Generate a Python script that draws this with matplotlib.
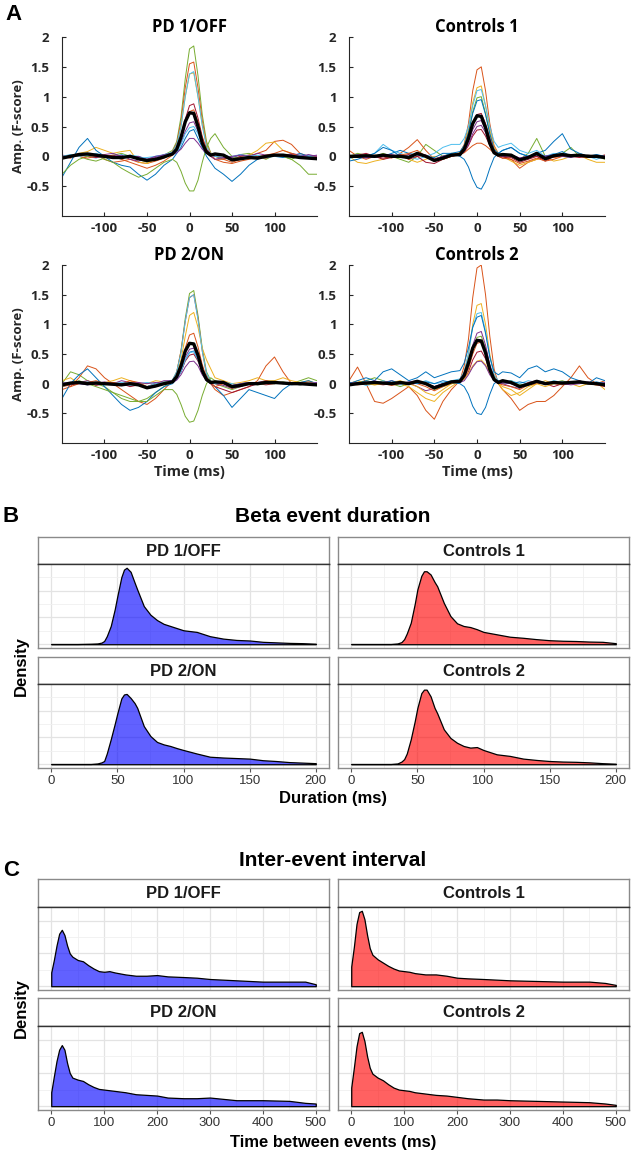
import matplotlib
matplotlib.use('Agg')
import matplotlib.pyplot as plt

# ---------------- data ----------------
# panel A: event-locked traces (F-score), sampled at t_ms
t_ms = [-150, -140, -130, -120, -110, -100, -90, -80, -70, -60, -50, -40, -30, -20, -15, -10, -5, 0,
        5, 10, 15, 20, 25, 30, 40, 50, 60, 70, 80, 90, 100, 110, 120, 130, 140, 150]

pd_colors = ['#77AC30', '#D95319', '#EDB120', '#4DBEEE', '#0072BD', '#A2142F', '#7E2F8E',
             '#77AC30', '#D95319', '#4DBEEE', '#7E2F8E']
ctrl1_colors = ['#77AC30', '#D95319', '#EDB120', '#0072BD', '#4DBEEE', '#A2142F', '#7E2F8E',
                '#A2142F', '#D95319', '#0072BD', '#7E2F8E']
ctrl2_colors = ['#77AC30', '#D95319', '#EDB120', '#4DBEEE', '#0072BD', '#A2142F', '#7E2F8E',
                '#D95319', '#EDB120', '#0072BD', '#7E2F8E']

pd1_off_traces = [
    [-0.05, 0.02, 0.0, -0.05, -0.08, -0.03, 0.02, 0.05, 0.0, -0.05, -0.1, -0.05, 0.02, 0.1, 0.25, 0.66, 1.3, 1.8, 1.85, 1.35, 0.7, 0.25, 0.06, 0.0, -0.05, -0.02, 0.03, 0.05, 0.0, -0.05, 0.02, 0.0, -0.05, 0.02, -0.02, 0.0],
    [0.0, -0.03, 0.02, 0.0, 0.03, -0.05, -0.1, -0.08, -0.05, -0.1, -0.12, -0.08, -0.03, 0.08, 0.22, 0.58, 1.15, 1.55, 1.58, 1.15, 0.6, 0.2, 0.05, -0.05, -0.05, -0.1, -0.05, 0.0, 0.05, 0.1, 0.25, 0.27, 0.2, 0.05, 0.0, -0.03],
    [0.0, 0.02, 0.05, 0.08, 0.15, 0.1, 0.05, 0.08, 0.1, -0.1, -0.12, -0.05, 0.0, 0.06, 0.18, 0.5, 1.0, 1.38, 1.4, 1.0, 0.52, 0.18, 0.05, 0.0, 0.02, -0.05, 0.0, 0.02, 0.1, 0.22, 0.24, 0.1, 0.05, 0.0, -0.02, 0.0],
    [0.0, -0.02, 0.03, 0.0, -0.03, 0.02, 0.0, -0.05, 0.02, 0.0, -0.05, 0.0, 0.03, 0.07, 0.2, 0.5, 1.0, 1.38, 1.42, 1.0, 0.52, 0.17, 0.04, 0.0, 0.03, -0.02, 0.02, 0.0, -0.03, 0.02, 0.0, 0.03, 0.0, -0.02, 0.02, 0.0],
    [-0.35, -0.1, 0.15, 0.3, 0.1, 0.0, -0.1, -0.15, -0.18, -0.3, -0.4, -0.3, -0.15, -0.05, 0.05, 0.15, 0.3, 0.42, 0.45, 0.3, 0.15, 0.0, -0.1, -0.2, -0.3, -0.42, -0.3, -0.15, -0.05, 0.0, 0.0, -0.02, 0.0, 0.05, 0.0, -0.02],
    [-0.02, 0.0, 0.03, 0.0, -0.02, 0.0, 0.02, -0.03, 0.0, -0.05, -0.08, -0.05, 0.0, 0.04, 0.12, 0.32, 0.62, 0.85, 0.88, 0.64, 0.33, 0.12, 0.04, 0.0, -0.03, -0.05, 0.0, 0.02, 0.0, -0.03, 0.02, 0.0, 0.03, 0.0, -0.02, 0.0],
    [0.02, 0.0, 0.05, 0.02, 0.0, 0.03, 0.05, 0.0, -0.02, 0.0, -0.05, -0.02, 0.03, 0.05, 0.1, 0.22, 0.42, 0.56, 0.58, 0.42, 0.22, 0.08, 0.03, 0.0, 0.02, -0.02, 0.03, 0.0, 0.05, 0.02, 0.03, 0.0, 0.05, 0.02, 0.0, 0.02],
    [-0.3, -0.15, -0.05, 0.0, 0.02, -0.05, -0.1, -0.2, -0.28, -0.35, -0.3, -0.2, -0.1, -0.05, -0.1, -0.25, -0.45, -0.58, -0.58, -0.4, -0.1, 0.15, 0.3, 0.38, 0.15, 0.0, -0.05, 0.0, -0.03, 0.0, 0.02, 0.0, -0.05, -0.15, -0.3, -0.3],
    [0.0, 0.02, 0.0, -0.03, 0.0, 0.02, 0.0, -0.05, -0.1, -0.15, -0.2, -0.15, -0.08, 0.02, 0.1, 0.28, 0.55, 0.75, 0.78, 0.58, 0.3, 0.1, 0.0, -0.05, -0.1, -0.12, -0.08, -0.05, 0.0, 0.02, 0.05, 0.1, 0.05, 0.0, -0.02, 0.0],
    [0.0, 0.03, 0.0, 0.02, 0.05, 0.0, -0.02, 0.03, 0.0, -0.03, -0.02, 0.0, 0.02, 0.04, 0.08, 0.2, 0.38, 0.48, 0.5, 0.38, 0.2, 0.07, 0.02, 0.0, -0.02, 0.0, 0.03, 0.0, 0.02, -0.02, 0.0, 0.03, 0.0, 0.02, 0.0, -0.02],
    [-0.02, 0.0, 0.02, 0.05, 0.0, -0.02, 0.0, 0.02, -0.05, -0.08, -0.05, 0.0, 0.02, 0.03, 0.06, 0.12, 0.22, 0.3, 0.3, 0.22, 0.12, 0.05, 0.0, -0.05, -0.02, 0.0, 0.02, 0.0, -0.02, 0.0, 0.03, 0.0, 0.02, 0.0, 0.03, 0.0],
]
pd1_off_mean = [-0.03, 0.0, 0.03, 0.04, 0.02, 0.0, -0.02, -0.02, 0.0, -0.04, -0.07, -0.05, -0.01, 0.04, 0.12, 0.32, 0.58, 0.73, 0.72, 0.5, 0.22, 0.07, 0.02, 0.04, 0.02, -0.06, -0.04, -0.02, -0.03, 0.0, 0.02, 0.02, 0.0, -0.02, -0.03, -0.04]

controls1_traces = [
    [0.0, 0.05, 0.02, 0.0, 0.05, 0.0, -0.05, -0.1, 0.0, 0.2, 0.1, 0.0, 0.05, 0.05, 0.15, 0.38, 0.75, 0.98, 1.0, 0.72, 0.38, 0.12, 0.03, 0.0, 0.02, -0.05, 0.05, 0.3, 0.0, 0.02, 0.05, 0.15, 0.0, 0.02, 0.0, -0.05],
    [0.1, 0.0, -0.05, 0.0, 0.02, -0.03, 0.05, 0.15, 0.28, 0.1, -0.05, 0.0, 0.03, 0.06, 0.2, 0.55, 1.1, 1.45, 1.5, 1.1, 0.55, 0.18, 0.05, 0.0, -0.05, -0.2, -0.1, -0.05, 0.0, -0.02, 0.0, 0.02, 0.0, -0.02, 0.0, 0.02],
    [0.0, -0.1, -0.12, -0.08, -0.05, 0.0, 0.02, -0.05, -0.1, -0.05, 0.0, -0.05, 0.0, 0.06, 0.18, 0.45, 0.9, 1.15, 1.18, 0.85, 0.45, 0.15, 0.05, 0.0, -0.08, -0.15, -0.1, -0.05, -0.02, -0.08, -0.05, 0.0, 0.02, -0.05, -0.1, -0.1],
    [0.0, 0.03, 0.0, -0.02, 0.0, 0.05, 0.1, 0.05, 0.02, 0.0, -0.05, 0.0, 0.05, 0.08, 0.18, 0.4, 0.72, 0.93, 0.95, 0.7, 0.38, 0.12, 0.05, 0.1, 0.15, 0.05, 0.0, 0.05, 0.1, 0.25, 0.38, 0.12, 0.05, 0.0, 0.02, 0.0],
    [-0.05, 0.02, 0.0, 0.05, 0.2, 0.1, 0.05, 0.0, -0.05, 0.0, 0.05, 0.15, 0.2, 0.2, 0.3, 0.5, 0.85, 1.1, 1.12, 0.85, 0.5, 0.25, 0.15, 0.18, 0.22, 0.1, 0.05, 0.1, 0.0, 0.05, 0.0, -0.02, 0.05, 0.0, -0.05, 0.0],
    [-0.02, 0.0, 0.02, 0.0, -0.03, 0.0, 0.02, -0.05, 0.0, 0.02, -0.05, -0.02, 0.0, 0.03, 0.07, 0.18, 0.34, 0.44, 0.45, 0.34, 0.18, 0.06, 0.0, -0.03, 0.0, -0.05, -0.02, 0.0, -0.08, 0.0, 0.02, 0.0, -0.02, 0.0, 0.02, 0.0],
    [0.0, 0.02, -0.02, 0.0, 0.02, 0.0, 0.03, 0.0, 0.05, 0.02, -0.05, 0.0, 0.02, 0.04, 0.1, 0.25, 0.45, 0.58, 0.6, 0.45, 0.25, 0.08, 0.02, 0.0, 0.03, -0.03, 0.0, 0.02, 0.0, 0.03, 0.0, 0.02, 0.0, 0.02, 0.0, 0.0],
    [0.0, 0.02, 0.05, 0.0, -0.05, -0.02, 0.0, 0.03, 0.0, -0.1, -0.12, -0.05, 0.0, 0.04, 0.1, 0.3, 0.55, 0.7, 0.72, 0.55, 0.3, 0.1, 0.02, 0.0, -0.02, -0.1, -0.05, 0.0, -0.05, 0.0, 0.02, 0.0, 0.03, -0.02, 0.0, 0.02],
    [0.0, -0.02, 0.0, 0.02, 0.0, -0.02, 0.02, 0.05, 0.1, 0.0, -0.08, -0.05, 0.0, 0.03, 0.06, 0.12, 0.18, 0.22, 0.22, 0.18, 0.12, 0.05, 0.0, -0.03, -0.05, -0.12, -0.08, -0.03, -0.08, -0.05, 0.0, 0.02, 0.0, -0.02, 0.0, 0.0],
    [-0.08, -0.05, 0.0, 0.05, 0.15, 0.1, 0.0, 0.0, 0.05, 0.0, -0.02, 0.05, 0.05, 0.0, -0.05, -0.18, -0.38, -0.52, -0.55, -0.42, -0.2, -0.02, 0.05, 0.1, 0.15, 0.05, 0.0, 0.02, 0.0, 0.03, 0.08, 0.0, 0.02, 0.0, 0.03, 0.0],
    [0.02, 0.0, -0.03, 0.0, 0.02, 0.03, 0.0, -0.02, 0.03, 0.0, -0.05, 0.0, 0.02, 0.03, 0.08, 0.2, 0.38, 0.5, 0.52, 0.4, 0.2, 0.07, 0.02, 0.0, 0.02, -0.03, 0.0, 0.03, 0.0, 0.02, 0.0, -0.02, 0.02, 0.0, -0.02, 0.0],
]
controls1_mean = [0.0, 0.0, 0.01, 0.0, 0.02, 0.0, 0.0, -0.02, 0.05, 0.0, -0.07, -0.03, 0.02, 0.03, 0.12, 0.3, 0.55, 0.68, 0.67, 0.48, 0.22, 0.06, 0.02, 0.03, 0.02, -0.06, -0.02, 0.05, -0.04, 0.01, 0.03, 0.01, 0.02, 0.0, 0.0, -0.02]

pd2_on_traces = [
    [0.0, 0.2, 0.15, 0.05, 0.0, -0.05, -0.15, -0.25, -0.3, -0.3, -0.25, -0.15, -0.05, 0.06, 0.2, 0.55, 1.1, 1.52, 1.57, 1.15, 0.6, 0.2, 0.05, 0.0, -0.05, -0.1, -0.05, 0.0, 0.02, 0.0, 0.0, 0.03, 0.0, 0.05, 0.1, 0.05],
    [-0.1, -0.05, 0.1, 0.3, 0.25, 0.1, 0.0, -0.1, -0.2, -0.3, -0.35, -0.25, -0.1, 0.05, 0.2, 0.55, 1.05, 1.45, 1.5, 1.1, 0.55, 0.15, 0.0, -0.1, -0.2, -0.15, -0.1, -0.05, 0.05, 0.3, 0.45, 0.2, 0.0, 0.02, 0.0, 0.0],
    [0.05, 0.1, 0.0, 0.05, 0.0, 0.02, 0.05, 0.1, 0.05, 0.0, 0.0, 0.05, 0.03, 0.05, 0.15, 0.4, 0.8, 1.15, 1.2, 0.95, 0.6, 0.4, 0.25, 0.1, 0.05, 0.0, 0.02, 0.05, 0.1, 0.05, 0.05, 0.1, 0.05, 0.02, 0.05, 0.0],
    [0.0, 0.02, 0.0, -0.02, 0.03, 0.0, 0.02, 0.0, -0.03, 0.0, 0.02, 0.0, 0.03, 0.06, 0.2, 0.52, 1.05, 1.45, 1.5, 1.08, 0.55, 0.17, 0.04, 0.0, 0.02, 0.0, -0.03, 0.0, 0.02, 0.0, 0.03, 0.0, -0.02, 0.0, 0.02, 0.0],
    [-0.25, 0.0, 0.15, 0.25, 0.1, -0.05, -0.2, -0.35, -0.45, -0.4, -0.3, -0.15, -0.05, 0.0, 0.08, 0.2, 0.4, 0.53, 0.55, 0.4, 0.2, 0.05, 0.0, -0.05, -0.2, -0.4, -0.25, -0.1, -0.15, -0.2, -0.25, -0.1, 0.0, 0.02, 0.05, 0.0],
    [-0.05, -0.02, 0.0, 0.02, -0.03, 0.0, 0.02, 0.0, -0.05, -0.02, -0.08, -0.05, 0.0, 0.03, 0.08, 0.2, 0.38, 0.48, 0.5, 0.38, 0.2, 0.06, 0.0, -0.05, -0.1, -0.15, -0.1, -0.05, 0.0, -0.02, 0.0, 0.02, 0.0, -0.02, 0.0, 0.0],
    [0.02, 0.0, 0.02, 0.05, 0.0, 0.02, 0.0, 0.05, 0.02, 0.0, -0.05, 0.0, 0.05, 0.05, 0.1, 0.24, 0.45, 0.58, 0.6, 0.45, 0.24, 0.08, 0.02, 0.0, -0.03, -0.08, -0.05, 0.0, 0.02, 0.05, 0.0, 0.02, 0.0, 0.02, 0.0, 0.02],
    [-0.05, 0.0, 0.05, 0.0, -0.05, -0.1, -0.15, -0.2, -0.25, -0.3, -0.3, -0.2, -0.1, -0.1, -0.18, -0.35, -0.55, -0.65, -0.63, -0.45, -0.2, 0.0, 0.1, 0.05, 0.0, -0.05, 0.0, 0.02, -0.02, 0.0, 0.0, 0.02, 0.0, -0.02, 0.0, 0.0],
    [0.0, -0.05, 0.0, 0.02, 0.05, 0.0, 0.02, 0.0, 0.05, 0.02, -0.05, 0.0, 0.02, 0.04, 0.12, 0.32, 0.6, 0.82, 0.85, 0.62, 0.32, 0.1, 0.02, -0.05, 0.0, -0.08, 0.0, 0.02, 0.0, 0.05, 0.02, 0.0, 0.02, 0.0, 0.03, 0.0],
    [0.0, 0.02, 0.0, 0.03, 0.0, -0.02, 0.0, 0.02, 0.0, -0.02, -0.05, 0.0, 0.02, 0.03, 0.08, 0.2, 0.4, 0.52, 0.54, 0.4, 0.2, 0.07, 0.02, 0.0, 0.02, -0.03, 0.0, 0.02, 0.0, 0.03, 0.0, 0.02, 0.0, -0.02, 0.0, 0.02],
    [0.0, 0.02, 0.0, -0.02, 0.0, 0.03, 0.0, -0.02, 0.0, 0.02, 0.0, 0.02, 0.0, 0.02, 0.06, 0.15, 0.28, 0.37, 0.38, 0.3, 0.15, 0.05, 0.0, 0.02, 0.0, -0.03, 0.0, 0.02, 0.0, 0.0, 0.02, 0.0, 0.02, 0.0, 0.0, 0.02],
]
pd2_on_mean = [-0.02, 0.01, 0.02, 0.0, 0.01, 0.0, -0.01, -0.02, 0.0, -0.02, -0.07, -0.04, 0.0, 0.03, 0.12, 0.3, 0.55, 0.68, 0.67, 0.48, 0.22, 0.07, 0.02, 0.03, 0.02, -0.05, -0.03, 0.0, 0.0, 0.02, 0.02, 0.01, 0.0, 0.0, -0.01, -0.02]

controls2_traces = [
    [0.0, 0.02, 0.05, 0.1, 0.05, 0.0, -0.05, 0.0, 0.05, 0.0, -0.1, -0.05, 0.0, 0.04, 0.12, 0.3, 0.6, 0.78, 0.8, 0.6, 0.3, 0.1, 0.02, 0.0, 0.05, -0.02, 0.0, 0.05, 0.0, 0.02, 0.05, 0.0, 0.03, 0.0, 0.02, 0.0],
    [0.05, 0.28, 0.0, -0.3, -0.33, -0.25, -0.15, -0.05, -0.2, -0.45, -0.6, -0.3, -0.1, 0.05, 0.3, 0.75, 1.45, 1.95, 2.0, 1.5, 0.8, 0.25, 0.0, -0.1, -0.25, -0.45, -0.35, -0.3, -0.3, -0.2, -0.05, 0.1, 0.3, 0.1, 0.0, 0.05],
    [0.0, 0.05, 0.0, -0.02, 0.0, 0.05, 0.0, -0.05, -0.15, -0.25, -0.3, -0.15, -0.05, 0.05, 0.2, 0.5, 1.0, 1.32, 1.35, 1.0, 0.5, 0.15, 0.0, -0.1, -0.2, -0.15, -0.05, 0.0, 0.05, 0.0, 0.02, 0.0, -0.05, 0.0, 0.02, -0.1],
    [0.0, 0.02, -0.03, 0.0, 0.05, 0.0, -0.02, 0.03, 0.0, 0.05, 0.0, 0.02, 0.05, 0.08, 0.2, 0.5, 0.95, 1.18, 1.2, 0.88, 0.45, 0.15, 0.05, 0.02, 0.05, 0.0, 0.05, 0.02, 0.0, 0.05, 0.02, 0.0, 0.03, 0.0, 0.02, 0.0],
    [0.0, 0.05, 0.1, 0.05, 0.2, 0.25, 0.15, 0.05, 0.1, 0.2, 0.1, 0.15, 0.2, 0.22, 0.35, 0.6, 0.95, 1.12, 1.15, 0.85, 0.45, 0.2, 0.15, 0.2, 0.18, 0.1, 0.25, 0.3, 0.2, 0.25, 0.2, 0.1, 0.05, 0.0, 0.1, 0.05],
    [-0.02, 0.0, 0.02, 0.0, -0.02, 0.0, 0.02, 0.0, 0.05, 0.0, -0.05, 0.0, 0.02, 0.03, 0.08, 0.2, 0.4, 0.53, 0.55, 0.42, 0.2, 0.06, 0.0, 0.02, 0.0, -0.05, 0.02, 0.05, 0.0, -0.05, 0.0, 0.02, 0.05, 0.0, -0.02, -0.05],
    [0.02, 0.0, 0.03, 0.0, 0.02, 0.05, 0.0, 0.02, -0.05, -0.12, -0.08, 0.0, 0.02, 0.05, 0.12, 0.32, 0.65, 0.85, 0.88, 0.65, 0.32, 0.1, 0.02, 0.0, -0.05, -0.08, 0.0, 0.02, 0.0, 0.03, 0.0, 0.02, 0.0, 0.03, 0.0, 0.02],
    [0.0, -0.02, 0.0, 0.02, 0.0, -0.03, 0.0, 0.02, 0.0, -0.05, -0.12, -0.05, 0.0, 0.04, 0.1, 0.25, 0.5, 0.68, 0.7, 0.52, 0.25, 0.08, 0.0, -0.02, -0.05, -0.1, -0.02, 0.0, 0.02, 0.0, -0.02, 0.0, 0.02, 0.0, -0.02, 0.0],
    [0.0, 0.02, 0.0, -0.02, 0.0, 0.02, 0.05, 0.0, -0.05, -0.15, -0.2, -0.1, 0.0, 0.03, 0.08, 0.18, 0.3, 0.38, 0.4, 0.32, 0.18, 0.05, 0.0, -0.05, -0.1, -0.2, -0.1, 0.0, -0.05, 0.0, 0.02, 0.0, 0.02, 0.0, -0.02, 0.0],
    [0.02, 0.0, 0.05, 0.02, 0.0, 0.05, 0.0, 0.02, 0.0, 0.03, 0.0, 0.05, 0.02, 0.0, -0.05, -0.18, -0.38, -0.5, -0.52, -0.4, -0.18, 0.0, 0.05, 0.02, 0.0, 0.03, 0.0, 0.05, 0.02, 0.0, 0.03, 0.0, 0.02, 0.0, 0.03, 0.0],
    [0.0, 0.02, 0.0, 0.05, 0.0, 0.02, 0.0, 0.03, 0.05, 0.0, -0.05, 0.0, 0.02, 0.02, 0.05, 0.15, 0.28, 0.37, 0.38, 0.3, 0.15, 0.05, 0.0, 0.02, 0.0, -0.05, 0.0, 0.02, 0.0, 0.02, 0.0, -0.02, 0.0, 0.02, 0.0, 0.0],
]
controls2_mean = [-0.02, 0.0, 0.01, 0.02, 0.01, 0.0, 0.02, 0.0, 0.04, 0.0, -0.07, -0.02, 0.03, 0.04, 0.14, 0.35, 0.6, 0.73, 0.72, 0.52, 0.24, 0.07, 0.02, 0.05, 0.02, -0.05, -0.01, 0.04, 0.0, 0.02, 0.01, 0.02, 0.03, 0.01, 0.0, -0.02]

a_titles = ['PD 1/OFF', 'Controls 1', 'PD 2/ON', 'Controls 2']
a_xticks = [-100, -50, 0, 50, 100]
a_xticklabels = ['-100', '-50', '0', '50', '100']
a_yticks = [-0.5, 0, 0.5, 1, 1.5, 2]
a_yticklabels = ['-0.5', '0', '0.5', '1', '1.5', '2']

# panel B: beta event duration densities
dur_x = [0, 10, 20, 30, 35, 38, 40, 42, 45, 48, 50, 53, 55, 57, 60, 63, 65, 70, 75, 80, 85, 90, 95,
         100, 110, 120, 130, 140, 150, 160, 170, 180, 190, 200]
dur_pd1_off = [0.0001, 0.0001, 0.0001, 0.0002, 0.0003, 0.0006, 0.0012, 0.003, 0.0068, 0.013, 0.018, 0.025, 0.0278, 0.0285, 0.027, 0.023, 0.0204, 0.0142, 0.011, 0.009, 0.0076, 0.0068, 0.006, 0.0052, 0.0046, 0.003, 0.0021, 0.0016, 0.0014, 0.0009, 0.0007, 0.0005, 0.0004, 0.0002]
dur_controls1 = [0.0001, 0.0001, 0.0001, 0.0001, 0.0003, 0.0008, 0.0019, 0.004, 0.008, 0.015, 0.0204, 0.0255, 0.0272, 0.0272, 0.026, 0.0232, 0.0216, 0.0154, 0.0105, 0.0078, 0.0068, 0.0064, 0.0056, 0.0046, 0.0037, 0.0028, 0.0024, 0.0019, 0.0015, 0.0013, 0.0012, 0.001, 0.0009, 0.0004]
dur_pd2_on = [0.0001, 0.0001, 0.0001, 0.0001, 0.0003, 0.0007, 0.0012, 0.004, 0.0093, 0.015, 0.019, 0.0245, 0.026, 0.0262, 0.0247, 0.0228, 0.021, 0.0142, 0.0105, 0.0083, 0.0074, 0.0068, 0.006, 0.0053, 0.004, 0.0028, 0.0025, 0.0023, 0.0021, 0.0015, 0.0012, 0.0008, 0.0006, 0.0004]
dur_controls2 = [0.0001, 0.0001, 0.0001, 0.0001, 0.0003, 0.001, 0.0019, 0.004, 0.0093, 0.016, 0.021, 0.0265, 0.0278, 0.0278, 0.0253, 0.021, 0.019, 0.013, 0.0098, 0.008, 0.0068, 0.0062, 0.0064, 0.0053, 0.0037, 0.0031, 0.0021, 0.0016, 0.0012, 0.001, 0.0009, 0.0007, 0.0004, 0.0002]

# panel C: inter-event interval densities
iei_x = [0, 5, 10, 15, 20, 25, 30, 35, 40, 50, 60, 70, 80, 90, 100, 110, 120, 140, 160, 180, 200,
         220, 250, 275, 300, 350, 400, 450, 480, 500]
iei_pd1_off = [0.0021, 0.004, 0.0062, 0.008, 0.0086, 0.0078, 0.0062, 0.005, 0.0045, 0.004, 0.0038, 0.0032, 0.0027, 0.0023, 0.0022, 0.0023, 0.0021, 0.0018, 0.0016, 0.0016, 0.0017, 0.0015, 0.0014, 0.0013, 0.0011, 0.0009, 0.0007, 0.0007, 0.0007, 0.0003]
iei_controls1 = [0.003, 0.006, 0.0095, 0.0113, 0.0115, 0.0102, 0.0078, 0.0058, 0.0048, 0.0041, 0.0036, 0.0031, 0.0027, 0.0024, 0.0023, 0.0022, 0.002, 0.0018, 0.0018, 0.0016, 0.0013, 0.0012, 0.0011, 0.001, 0.0009, 0.0008, 0.0007, 0.0007, 0.0005, 0.0002]
iei_pd2_on = [0.0021, 0.0045, 0.0068, 0.0085, 0.0092, 0.0085, 0.0065, 0.005, 0.0043, 0.004, 0.0038, 0.0033, 0.0029, 0.0026, 0.0025, 0.0024, 0.0023, 0.0021, 0.0018, 0.0017, 0.0016, 0.0013, 0.0012, 0.0012, 0.0013, 0.0009, 0.0009, 0.0008, 0.0005, 0.0004]
iei_controls2 = [0.0028, 0.0058, 0.009, 0.011, 0.0112, 0.0098, 0.0075, 0.0058, 0.0049, 0.0043, 0.0039, 0.0033, 0.0028, 0.0025, 0.0024, 0.0023, 0.0021, 0.0019, 0.0017, 0.0016, 0.0014, 0.0012, 0.001, 0.001, 0.0009, 0.0008, 0.0007, 0.0006, 0.0004, 0.0002]

facet_names = ['PD 1/OFF', 'Controls 1', 'PD 2/ON', 'Controls 2']
facet_fills = [(0, 0, 1, 0.62), (1, 0, 0, 0.62), (0, 0, 1, 0.62), (1, 0, 0, 0.62)]

# ---------------- figure ----------------
W, H = 633, 1154
fig = plt.figure(figsize=(W / 100, H / 100), dpi=100)
AFONT = 'Open Sans'
GFONT = 'Liberation Sans'


def px_axes(x0, y0, x1, y1):
    return fig.add_axes([x0 / W, 1 - y1 / H, (x1 - x0) / W, (y1 - y0) / H])


def px_text(x, y, s, **kw):
    fig.text(x / W, 1 - y / H, s, ha=kw.pop('ha', 'center'), va=kw.pop('va', 'center'), **kw)


# panel A
a_cols = [(62, 317), (349, 605)]
a_rows = [(37, 216), (265, 443)]
a_sets = [(pd1_off_traces, pd1_off_mean, pd_colors), (controls1_traces, controls1_mean, ctrl1_colors),
          (pd2_on_traces, pd2_on_mean, pd_colors), (controls2_traces, controls2_mean, ctrl2_colors)]

for k, (traces, mean, colors) in enumerate(a_sets):
    r, c = divmod(k, 2)
    x0, x1 = a_cols[c]
    y0, y1 = a_rows[r]
    ax = px_axes(x0, y0, x1, y1)
    for vals, col in zip(traces, colors):
        ax.plot(t_ms, vals, color=col, lw=0.7)
    ax.plot(t_ms, mean, color='black', lw=2.4)
    ax.set_xlim(-150, 150)
    ax.set_ylim(-1, 2)
    ax.set_xticks(a_xticks)
    ax.set_xticklabels(a_xticklabels, fontfamily=AFONT, fontweight='bold', fontsize=9.5)
    ax.set_yticks(a_yticks)
    ax.set_yticklabels(a_yticklabels, fontfamily=AFONT, fontweight='bold', fontsize=9.5)
    ax.tick_params(direction='in', length=3, width=0.8, color='#262626', labelcolor='#262626')
    ax.tick_params(axis='x', pad=4)
    ax.tick_params(axis='y', pad=9)
    for s in ['top', 'right']:
        ax.spines[s].set_visible(False)
    for s in ['left', 'bottom']:
        ax.spines[s].set_color('#262626')
        ax.spines[s].set_linewidth(0.8)
    px_text((x0 + x1) / 2, y0 - 10, a_titles[k], fontfamily=AFONT, fontweight='bold', fontsize=12)
    if c == 0:
        px_text(19, (y0 + y1) / 2, 'Amp. (F-score)', rotation=90, fontfamily=AFONT,
                fontweight='bold', fontsize=9.5, color='#262626')
    if r == 1:
        px_text((x0 + x1) / 2, 472, 'Time (ms)', fontfamily=AFONT, fontweight='bold',
                fontsize=10.5, color='#262626')

px_text(13, 15, 'A', fontfamily=GFONT, fontweight='bold', fontsize=16)


def facet_grid(rows, xs, ys, xlim, ylim, xmaj, xmin, ymaj, ymin, xlabels):
    cols = [(38, 329), (338, 629)]
    for k in range(4):
        r, c = divmod(k, 2)
        x0, x1 = cols[c]
        s0, s1, p1 = rows[r]
        sax = px_axes(x0, s0, x1, s1)
        sax.set_xticks([])
        sax.set_yticks([])
        for sp in sax.spines.values():
            sp.set_color('#8a8a8a')
            sp.set_linewidth(1.0)
        sax.spines['bottom'].set_color('#333333')
        sax.text(0.5, 0.48, facet_names[k], transform=sax.transAxes, ha='center', va='center',
                 fontfamily=GFONT, fontweight='bold', fontsize=12, color='#1a1a1a')
        pax = px_axes(x0, s1, x1, p1)
        pax.fill_between(xs, ys[k], 0, facecolor=facet_fills[k], edgecolor='black', lw=0.9, zorder=3)
        pax.set_xlim(*xlim)
        pax.set_ylim(*ylim)
        pax.set_xticks(xmaj)
        pax.set_xticks(xmin, minor=True)
        pax.set_yticks(ymaj)
        pax.set_yticks(ymin, minor=True)
        pax.grid(which='major', color='#e3e3e3', lw=0.9)
        pax.grid(which='minor', color='#f0f0f0', lw=0.6)
        pax.set_axisbelow(True)
        pax.tick_params(axis='y', which='both', left=False, labelleft=False)
        pax.tick_params(axis='x', which='minor', bottom=False)
        if r == 1:
            pax.set_xticklabels(xlabels, fontfamily=GFONT, fontsize=9.5)
            pax.tick_params(axis='x', which='major', direction='out', length=3, width=0.8,
                            color='#555555', labelcolor='#333333', pad=2)
        else:
            pax.tick_params(axis='x', which='major', bottom=False, labelbottom=False)
        for sp in pax.spines.values():
            sp.set_color('#8a8a8a')
            sp.set_linewidth(1.0)
        pax.spines['top'].set_color('#333333')


# panel B
facet_grid([(537, 564, 648), (657, 684, 768)], dur_x,
           [dur_pd1_off, dur_controls1, dur_pd2_on, dur_controls2],
           (-10, 210), (-0.0014, 0.0299), [0, 50, 100, 150, 200], [25, 75, 125, 175],
           [0, 0.01, 0.02], [0.005, 0.015, 0.025], ['0', '50', '100', '150', '200'])
px_text(11, 516, 'B', fontfamily=GFONT, fontweight='bold', fontsize=16)
px_text(333, 517, 'Beta event duration', fontfamily=GFONT, fontweight='bold', fontsize=15)
px_text(21, 666, 'Density', rotation=90, fontfamily=GFONT, fontweight='bold', fontsize=12)
px_text(333, 798, 'Duration (ms)', fontfamily=GFONT, fontweight='bold', fontsize=12)

# panel C
facet_grid([(879, 907, 990), (998, 1026, 1110)], iei_x,
           [iei_pd1_off, iei_controls1, iei_pd2_on, iei_controls2],
           (-25, 525), (-0.000575, 0.012075), [0, 100, 200, 300, 400, 500],
           [50, 150, 250, 350, 450], [0, 0.005, 0.01], [0.0025, 0.0075],
           ['0', '100', '200', '300', '400', '500'])
px_text(11, 871, 'C', fontfamily=GFONT, fontweight='bold', fontsize=16)
px_text(333, 860, 'Inter-event interval', fontfamily=GFONT, fontweight='bold', fontsize=15)
px_text(21, 1008, 'Density', rotation=90, fontfamily=GFONT, fontweight='bold', fontsize=12)
px_text(333, 1142, 'Time between events (ms)', fontfamily=GFONT, fontweight='bold', fontsize=12)

fig.savefig('out.png', dpi=100, facecolor='white')
